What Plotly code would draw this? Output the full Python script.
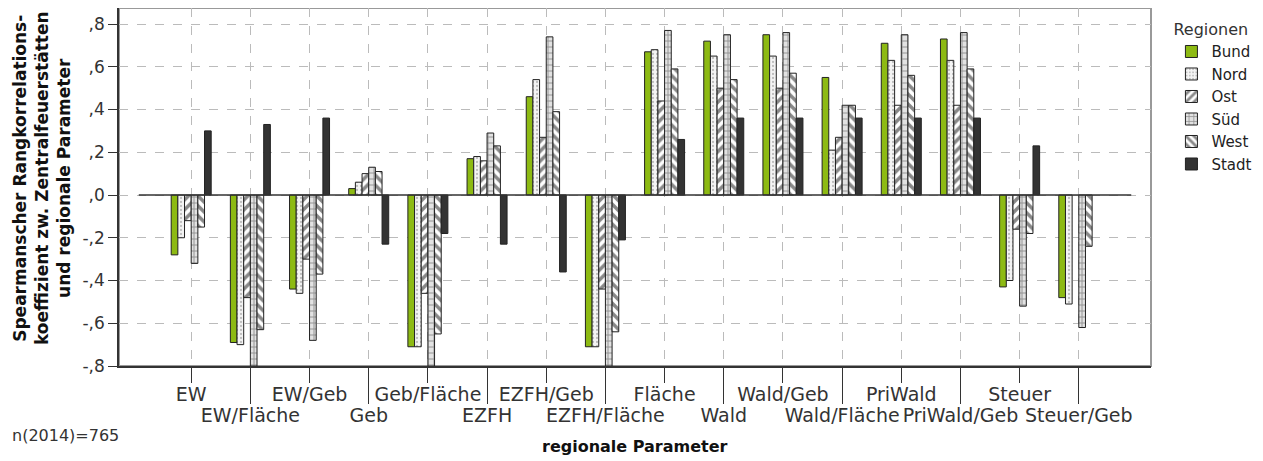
import plotly.graph_objects as go

# regionale Parameter (x categories)
categories = ["EW", "EW/Fläche", "EW/Geb", "Geb", "Geb/Fläche", "EZFH", "EZFH/Geb",
              "EZFH/Fläche", "Fläche", "Wald", "Wald/Geb", "Wald/Fläche", "PriWald",
              "PriWald/Geb", "Steuer", "Steuer/Geb"]

# Spearman rank correlation per region
bund = [-0.28, -0.69, -0.44, 0.03, -0.71, 0.17, 0.46, -0.71, 0.67, 0.72, 0.75, 0.55, 0.71, 0.73, -0.43, -0.48]
nord = [-0.20, -0.70, -0.46, 0.06, -0.71, 0.18, 0.54, -0.71, 0.68, 0.65, 0.65, 0.21, 0.63, 0.63, -0.40, -0.51]
ost = [-0.12, -0.48, -0.30, 0.10, -0.46, 0.16, 0.27, -0.44, 0.44, 0.50, 0.50, 0.27, 0.42, 0.42, -0.16, None]
sued = [-0.32, -0.80, -0.68, 0.13, -0.80, 0.29, 0.74, -0.80, 0.77, 0.75, 0.76, 0.42, 0.75, 0.76, -0.52, -0.62]
west = [-0.15, -0.63, -0.37, 0.11, -0.65, 0.23, 0.39, -0.64, 0.59, 0.54, 0.57, 0.42, 0.56, 0.59, -0.18, -0.24]
stadt = [0.30, 0.33, 0.36, -0.23, -0.18, -0.23, -0.36, -0.21, 0.26, 0.36, 0.36, 0.36, 0.36, 0.36, 0.23, None]

y_ticks = [-0.8, -0.6, -0.4, -0.2, 0.0, 0.2, 0.4, 0.6, 0.8]
y_ticktext = ["-,8", "-,6", "-,4", "-,2", ",0", ",2", ",4", ",6", ",8"]

FONT = "DejaVu Sans"
DARK = "#333333"

series = [
    ("Bund", bund, dict(color="#8DBA13", pattern=dict(shape=""))),
    ("Nord", nord, dict(color="#eeeeee", pattern=dict(shape=".", fgcolor="#888888", bgcolor="#f4f4f4",
                                                     size=4, solidity=0.25))),
    ("Ost", ost, dict(color="white", pattern=dict(shape="/", fgcolor="#111111", bgcolor="white",
                                                  size=7, solidity=0.5))),
    ("Süd", sued, dict(color="#dddddd", pattern=dict(shape="+", fgcolor="#444444", bgcolor="#e2e2e2",
                                                    size=6, solidity=0.3))),
    ("West", west, dict(color="white", pattern=dict(shape="\\", fgcolor="#111111", bgcolor="white",
                                                    size=7, solidity=0.5))),
    ("Stadt", stadt, dict(color="#333333", pattern=dict(shape=""))),
]

fig = go.Figure()
for name, vals, marker in series:
    fig.add_trace(go.Bar(
        name=name, x=categories, y=vals,
        marker=dict(line=dict(color="#222222", width=1), **marker),
    ))

# empty trace so the second (staggered label) x axis gets drawn
fig.add_trace(go.Scatter(x=categories, y=[None] * len(categories), xaxis="x2", yaxis="y",
                         mode="markers", showlegend=False, hoverinfo="skip"))

# staggered tick labels: even categories on the first row, odd ones on the second
row1 = [c if i % 2 == 0 else "" for i, c in enumerate(categories)]
row2 = categories[1::2]
xrange = [-1.22, len(categories) - 1 + 1.22]

shapes = [
    # gray frame top/right
    dict(type="rect", xref="paper", yref="paper", x0=0, x1=1, y0=0, y1=1,
         line=dict(color="#999999", width=2), layer="below"),
    # zero reference line
    dict(type="line", xref="x", yref="y", x0=-0.886, x1=len(categories) - 1 + 0.886,
         y0=0, y1=0, line=dict(color=DARK, width=1.6), layer="above"),
]

tickfont = dict(family=FONT, size=19, color="#333333")

# page has an 8px body margin, so the figure is 8px smaller than the window
fig.update_layout(
    width=1255, height=453,
    margin=dict(l=111, r=112, t=0, b=95),
    paper_bgcolor="white", plot_bgcolor="white",
    barmode="group", bargap=0.324, bargroupgap=0,
    font=dict(family=FONT, size=16, color="#222222"),
    shapes=shapes,
    legend=dict(
        title=dict(text="Regionen", font=dict(family=FONT, size=16, color="#333333")),
        x=1.0198, xanchor="left", y=0.982, yanchor="top",
        font=dict(family=FONT, size=15, color="#222222"),
        tracegroupgap=0, itemwidth=30,
    ),
    xaxis=dict(
        type="category", categoryorder="array", categoryarray=categories,
        range=xrange, automargin=False,
        tickmode="array", tickvals=categories, ticktext=row1, tickangle=0,
        ticks="outside", ticklen=15, tickwidth=1.3, tickcolor=DARK,
        tickfont=tickfont, ticklabelstandoff=-5,
        showgrid=True, gridcolor="#bbbbbb", griddash="dash", gridwidth=1,
        showline=True, linecolor=DARK, linewidth=1.5,
        zeroline=False,
    ),
    xaxis2=dict(
        type="category", categoryorder="array", categoryarray=categories,
        range=xrange, automargin=False, overlaying="x", anchor="y", side="bottom",
        tickmode="array", tickvals=row2, ticktext=row2, tickangle=0,
        ticks="outside", ticklen=37, tickwidth=1.3, tickcolor=DARK,
        tickfont=tickfont, ticklabelstandoff=-5,
        showgrid=False, showline=False, zeroline=False,
    ),
    yaxis=dict(
        range=[-0.8, 0.875], automargin=False,
        tickmode="array", tickvals=y_ticks, ticktext=y_ticktext,
        ticks="outside", ticklen=9, tickwidth=1.3, tickcolor=DARK,
        tickfont=dict(family=FONT, size=17, color="#333333"),
        showgrid=True, gridcolor="#bbbbbb", griddash="dash", gridwidth=1,
        showline=True, linecolor=DARK, linewidth=1.5,
        zeroline=False,
    ),
    annotations=[
        dict(text="<b>Spearmanscher Rangkorrelations-<br>koeffizient zw. Zentralfeuerstätten<br>und regionale Parameter</b>",
             xref="paper", yref="paper", x=-0.0746, y=0.525, xanchor="center", yanchor="middle",
             textangle=-90, showarrow=False, font=dict(family=FONT, size=17, color="#111111")),
        dict(text="<b>regionale Parameter</b>", xref="paper", yref="paper", x=0.5, y=-0.226,
             xanchor="center", yanchor="middle", showarrow=False,
             font=dict(family=FONT, size=16, color="#111111")),
        dict(text="n(2014)=765", xref="paper", yref="paper", x=-0.1056, y=-0.193,
             xanchor="left", yanchor="middle", showarrow=False,
             font=dict(family=FONT, size=16, color="#333333")),
    ],
)

fig.write_html("out.html")
